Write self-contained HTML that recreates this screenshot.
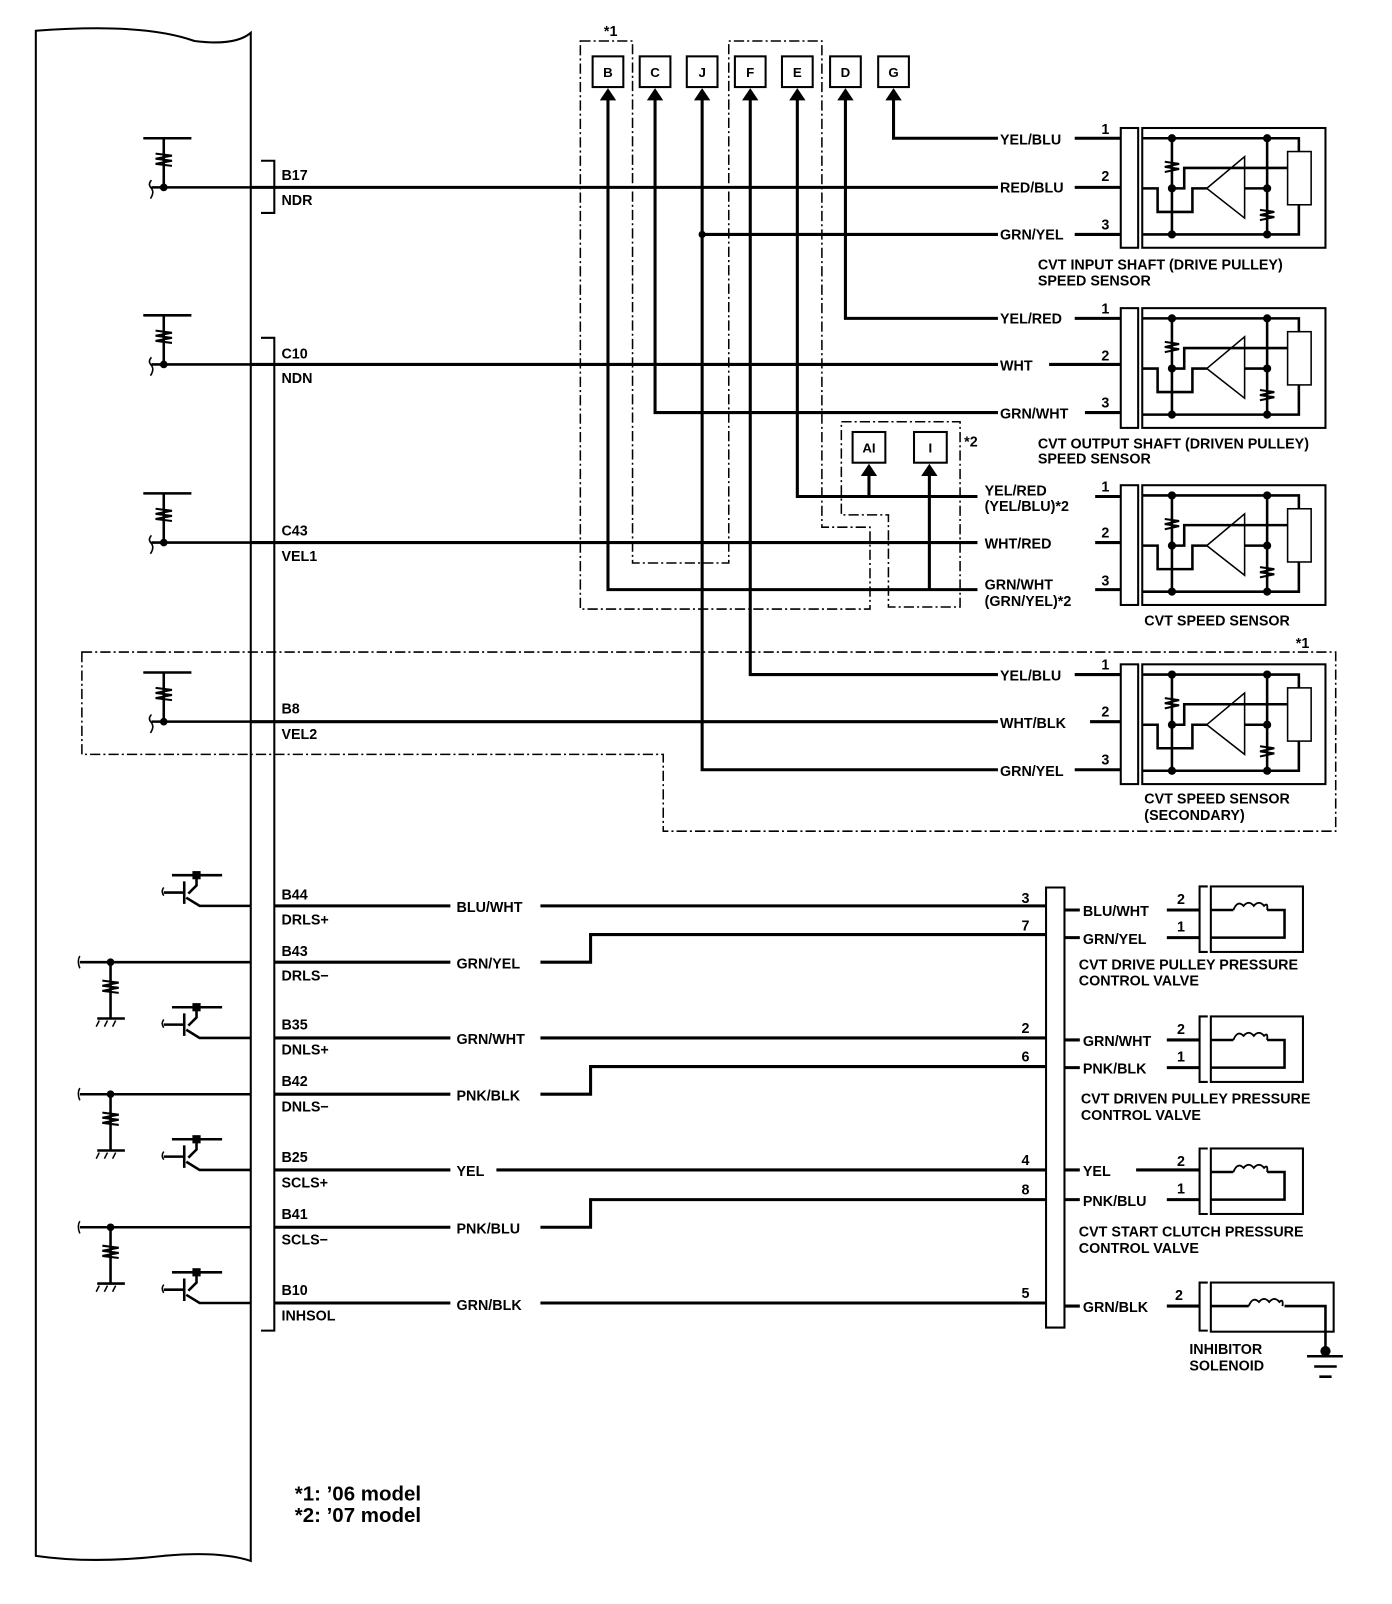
<!DOCTYPE html>
<html><head><meta charset="utf-8"><style>
html,body{margin:0;padding:0;background:#fff}
svg{display:block}
text{font-family:"Liberation Sans",sans-serif;font-weight:bold;font-size:14px;fill:#000}
</style></head><body>
<svg width="1392" height="1604" viewBox="0 0 1360 1567" xmlns="http://www.w3.org/2000/svg">
<defs>
<g id="sensor" fill="none" stroke="#000" stroke-width="2.5">
 <rect x="1095" y="125" width="17" height="117" stroke-width="2"/>
 <rect x="1116" y="125" width="179" height="117" stroke-width="2"/>
 <path d="M1116,135 H1269 V148 M1116,229 H1269 V200"/>
 <path d="M1145,135 V229 M1238,135 V229"/>
 <path d="M1138,158 l14,2 -14,3 14,2 -14,3 M1231,205 l14,2 -14,3 14,2 -14,3" stroke-width="2"/>
 <path d="M1116,184 H1131 V207 H1165 V184 H1179"/>
 <path d="M1145,184 H1157 V164 H1258 M1216,184 H1238"/>
 <path d="M1179,184 L1216,153 V213 Z" stroke-width="1.5"/>
 <rect x="1258" y="148" width="23" height="52" stroke-width="1.5"/>
 <g fill="#000" stroke="none"><circle cx="1145" cy="135" r="4"/><circle cx="1145" cy="184" r="4"/><circle cx="1145" cy="229" r="4"/><circle cx="1238" cy="135" r="4"/><circle cx="1238" cy="184" r="4"/><circle cx="1238" cy="229" r="4"/></g>
</g>
<g id="valve" fill="none" stroke="#000" stroke-width="2.5">
 <path d="M1180,866 H1172 V930 H1180" stroke-width="2"/>
 <rect x="1183" y="866" width="90" height="64" stroke-width="2"/>
 <path d="M1183,889 H1205 M1238,889 H1255 V916 H1183"/>
 <path d="M1205,889 q4,-10 10,-4 q5,-6 10,0 q5,-6 10,0 q4,-4 3,4" stroke-width="1.8"/>
</g>
<g id="pull" fill="none" stroke="#000" stroke-width="2.5">
 <path d="M140,135 H187 M160,135 V183 M148,183 H245"/>
 <path d="M152,150 l16,2 -16,3 16,2 -16,3 16,2" stroke-width="2"/>
 <path d="M148,176 q-4,4 0,8 q3,4 -1,10" stroke-width="1.5"/>
 <circle cx="160" cy="183" r="2.5" fill="#000"/>
</g>
<g id="trans" fill="none" stroke="#000" stroke-width="2.5">
 <path d="M168,-30 H217 M192,-30 V-20 L184,-12 M180,-24 V-2 M160,-13 H180 M182,-8 L195,0 H245"/>
 <rect x="188" y="-34" width="8" height="8" fill="#000" stroke="none"/>
 <path d="M160,-18 q-3,4 0,8" stroke-width="1.5"/>
</g>
<g id="gnd" fill="none" stroke="#000" stroke-width="2.5">
 <path d="M78,0 H245 M108,0 V55 M95,55 H122"/>
 <path d="M100,18 l16,2 -16,3 16,2 -16,3 16,2" stroke-width="2"/>
 <path d="M97,57 l-3,6 M105,57 l-3,6 M113,57 l-3,6" stroke-width="1.5"/>
 <path d="M78,-6 q-3,5 0,12" stroke-width="1.5"/>
 <circle cx="108" cy="0" r="2.5" fill="#000"/>
</g>
</defs>

<path d="M35,30 Q140,22 190,40 Q230,45 245,32 V1525 Q215,1515 160,1520 Q90,1528 35,1520 Z" fill="none" stroke="#000" stroke-width="2"/>
<path d="M255,157 H268 V208 H255 M255,330 H268 V1300 H255" fill="none" stroke="#000" stroke-width="2"/>

<use href="#pull"/>
<use href="#pull" transform="translate(0,173)"/>
<use href="#pull" transform="translate(0,347)"/>
<use href="#pull" transform="translate(0,522)"/>

<g fill="none" stroke="#000" stroke-width="3">
 <path d="M245,183 H975 M245,356 H975 M245,530 H955 M245,705 H975"/>
 <path d="M873,95 V135 H975 M826,95 V311 H975 M779,95 V485 H955 M733,95 V659 H975 M686,95 V752 H975 M686,229 H975 M640,95 V403 H975 M594,95 V576 H955 M849,462 V485 M908,462 V576"/>
</g>
<circle cx="686" cy="229" r="3.5"/>
<g fill="#000">
 <path d="M594,86 l-8,12 h16z M640,86 l-8,12 h16z M686,86 l-8,12 h16z M733,86 l-8,12 h16z M779,86 l-8,12 h16z M826,86 l-8,12 h16z M873,86 l-8,12 h16z M849,453 l-8,12 h16z M908,453 l-8,12 h16z"/>
</g>
<g fill="#fff" stroke="#000" stroke-width="2">
 <rect x="579" y="55" width="30" height="30"/><rect x="625" y="55" width="30" height="30"/><rect x="671" y="55" width="30" height="30"/><rect x="718" y="55" width="30" height="30"/><rect x="764" y="55" width="30" height="30"/><rect x="811" y="55" width="30" height="30"/><rect x="858" y="55" width="30" height="30"/>
 <rect x="833" y="422" width="32" height="30"/><rect x="893" y="422" width="32" height="30"/>
</g>
<g text-anchor="middle" style="font-size:13px">
 <text x="594" y="75" style="font-size:13px">B</text><text x="640" y="75" style="font-size:13px">C</text><text x="686" y="75" style="font-size:13px">J</text><text x="733" y="75" style="font-size:13px">F</text><text x="779" y="75" style="font-size:13px">E</text><text x="826" y="75" style="font-size:13px">D</text><text x="873" y="75" style="font-size:13px">G</text>
 <text x="849" y="442" style="font-size:13px">AI</text><text x="909" y="442" style="font-size:13px">I</text>
</g>
<g fill="none" stroke="#000" stroke-width="1.5" stroke-dasharray="10,3,2,3">
 <path d="M567,40 H618 V550 H712 V40 H803 V515 H850 V595 H567 Z"/>
 <path d="M822,412 H938 V593 H868 V503 H822 Z"/>
 <path d="M80,637 H1305 V812 H648 V737 H80 Z"/>
</g>
<text x="590" y="35">*1</text><text x="942" y="436">*2</text><text x="1266" y="633">*1</text>

<text x="275" y="176">B17</text><text x="275" y="200">NDR</text>
<text x="275" y="350">C10</text><text x="275" y="374">NDN</text>
<text x="275" y="523">C43</text><text x="275" y="548">VEL1</text>
<text x="275" y="697">B8</text><text x="275" y="722">VEL2</text>

<use href="#sensor"/>
<use href="#sensor" transform="translate(0,176)"/>
<use href="#sensor" transform="translate(0,349)"/>
<use href="#sensor" transform="translate(0,524)"/>
<g fill="none" stroke="#000" stroke-width="3">
 <path d="M1050,135 H1095 M1050,183 H1095 M1050,229 H1095 M1050,311 H1095 M1025,356 H1095 M1060,403 H1095 M1070,485 H1095 M1070,530 H1095 M1070,576 H1095 M1050,659 H1095 M1065,705 H1095 M1050,752 H1095"/>
</g>
<g>
 <text x="977" y="141">YEL/BLU</text><text x="977" y="188">RED/BLU</text><text x="977" y="234">GRN/YEL</text>
 <text x="977" y="316">YEL/RED</text><text x="977" y="362">WHT</text><text x="977" y="409">GRN/WHT</text>
 <text x="962" y="484">YEL/RED</text><text x="962" y="499">(YEL/BLU)*2</text><text x="962" y="536">WHT/RED</text>
 <text x="962" y="576">GRN/WHT</text><text x="962" y="592">(GRN/YEL)*2</text>
 <text x="977" y="665">YEL/BLU</text><text x="977" y="711">WHT/BLK</text><text x="977" y="758">GRN/YEL</text>
 <text x="1076" y="131">1</text><text x="1076" y="177">2</text><text x="1076" y="224">3</text>
 <text x="1076" y="306">1</text><text x="1076" y="352">2</text><text x="1076" y="398">3</text>
 <text x="1076" y="480">1</text><text x="1076" y="525">2</text><text x="1076" y="572">3</text>
 <text x="1076" y="654">1</text><text x="1076" y="700">2</text><text x="1076" y="747">3</text>
 <text x="1014" y="263">CVT INPUT SHAFT (DRIVE PULLEY)</text><text x="1014" y="279">SPEED SENSOR</text>
 <text x="1014" y="438">CVT OUTPUT SHAFT (DRIVEN PULLEY)</text><text x="1014" y="453">SPEED SENSOR</text>
 <text x="1118" y="611">CVT SPEED SENSOR</text>
 <text x="1118" y="785">CVT SPEED SENSOR</text><text x="1118" y="801">(SECONDARY)</text>
</g>

<use href="#trans" transform="translate(0,885)"/>
<use href="#trans" transform="translate(0,1014)"/>
<use href="#trans" transform="translate(0,1143)"/>
<use href="#trans" transform="translate(0,1273)"/>
<use href="#gnd" transform="translate(0,940)"/>
<use href="#gnd" transform="translate(0,1069)"/>
<use href="#gnd" transform="translate(0,1199)"/>
<g fill="none" stroke="#000" stroke-width="3">
 <path d="M268,885 H440 M528,885 H1022"/>
 <path d="M268,940 H440 M528,940 H577 V913 H1022"/>
 <path d="M268,1014 H440 M528,1014 H1022"/>
 <path d="M268,1069 H440 M528,1069 H577 V1042 H1022"/>
 <path d="M268,1143 H440 M485,1143 H1022"/>
 <path d="M268,1199 H440 M528,1199 H577 V1172 H1022"/>
 <path d="M268,1273 H440 M528,1273 H1022"/>
 <path d="M1040,889 H1055 M1040,916 H1055 M1040,1016 H1055 M1040,1043 H1055 M1040,1143 H1055 M1040,1172 H1055 M1040,1276 H1055"/>
 <path d="M1140,889 H1172 M1140,916 H1172 M1140,1016 H1172 M1140,1043 H1172 M1110,1143 H1172 M1140,1172 H1172 M1140,1276 H1172"/>
</g>
<path d="M1022,867 V1297 H1040 V867 Z" fill="none" stroke="#000" stroke-width="2"/>
<use href="#valve"/>
<use href="#valve" transform="translate(0,127)"/>
<use href="#valve" transform="translate(0,256)"/>
<g fill="none" stroke="#000" stroke-width="2.5">
 <path d="M1180,1253 H1172 V1300 H1180" stroke-width="2"/>
 <rect x="1183" y="1253" width="120" height="48" stroke-width="2"/>
 <path d="M1183,1276 H1220 M1255,1276 H1295 V1320"/>
 <path d="M1220,1276 q4,-10 10,-4 q5,-6 10,0 q5,-6 10,0 q4,-4 3,4" stroke-width="1.8"/>
 <path d="M1277,1325 H1312 M1284,1335 H1306 M1289,1345 H1301"/>
</g>
<circle cx="1295" cy="1320" r="5"/>
<g>
 <text x="275" y="879">B44</text><text x="275" y="903">DRLS+</text>
 <text x="275" y="934">B43</text><text x="275" y="958">DRLS−</text>
 <text x="275" y="1006">B35</text><text x="275" y="1030">DNLS+</text>
 <text x="275" y="1061">B42</text><text x="275" y="1086">DNLS−</text>
 <text x="275" y="1135">B25</text><text x="275" y="1160">SCLS+</text>
 <text x="275" y="1191">B41</text><text x="275" y="1216">SCLS−</text>
 <text x="275" y="1265">B10</text><text x="275" y="1290">INHSOL</text>
 <text x="446" y="891">BLU/WHT</text><text x="446" y="946">GRN/YEL</text><text x="446" y="1020">GRN/WHT</text>
 <text x="446" y="1075">PNK/BLK</text><text x="446" y="1149">YEL</text><text x="446" y="1205">PNK/BLU</text><text x="446" y="1280">GRN/BLK</text>
 <text x="998" y="882">3</text><text x="998" y="909">7</text><text x="998" y="1009">2</text><text x="998" y="1037">6</text>
 <text x="998" y="1138">4</text><text x="998" y="1167">8</text><text x="998" y="1268">5</text>
 <text x="1058" y="895">BLU/WHT</text><text x="1058" y="922">GRN/YEL</text>
 <text x="1058" y="1022">GRN/WHT</text><text x="1058" y="1049">PNK/BLK</text>
 <text x="1058" y="1149">YEL</text><text x="1058" y="1178">PNK/BLU</text>
 <text x="1058" y="1282">GRN/BLK</text>
 <text x="1150" y="883">2</text><text x="1150" y="910">1</text><text x="1150" y="1010">2</text><text x="1150" y="1037">1</text>
 <text x="1150" y="1139">2</text><text x="1150" y="1166">1</text><text x="1148" y="1270">2</text>
 <text x="1054" y="947">CVT DRIVE PULLEY PRESSURE</text><text x="1054" y="963">CONTROL VALVE</text>
 <text x="1056" y="1078">CVT DRIVEN PULLEY PRESSURE</text><text x="1056" y="1094">CONTROL VALVE</text>
 <text x="1054" y="1208">CVT START CLUTCH PRESSURE</text><text x="1054" y="1224">CONTROL VALVE</text>
 <text x="1162" y="1323">INHIBITOR</text><text x="1162" y="1339">SOLENOID</text>
 <text x="288" y="1466" style="font-size:20px">*1: ’06 model</text><text x="288" y="1487" style="font-size:20px">*2: ’07 model</text>
</g>
</svg>
</body></html>
